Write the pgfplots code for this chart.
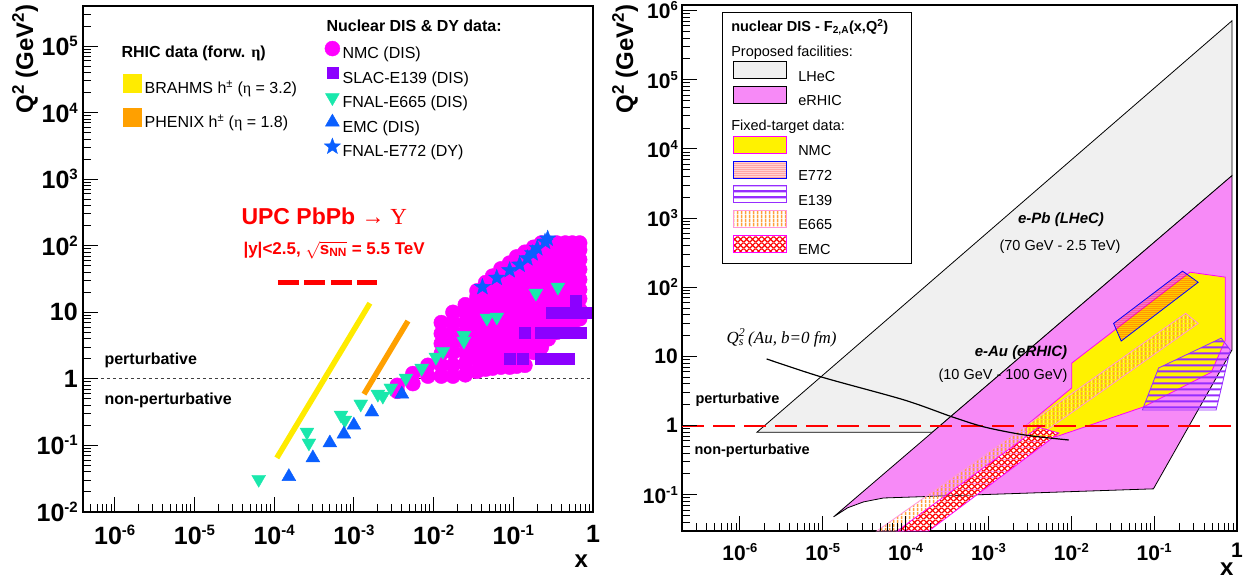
\documentclass[border=0pt]{standalone}
\usepackage{fontspec}
\setmainfont{Liberation Sans}
\newfontfamily\serif{Liberation Serif}
\usepackage{pgfplots}
\pgfplotsset{compat=1.18}
\usetikzlibrary{patterns.meta}

\newcommand{\fs}[1]{\fontsize{#1}{#1}\selectfont}
\newcommand{\tA}[1]{{\fs{25}\bfseries 10\raisebox{9pt}{\fs{15}\bfseries #1}}}
\newcommand{\tB}[1]{{\fs{21}\bfseries 10\raisebox{8pt}{\fs{13}\bfseries #1}}}
\newcommand{\oA}[1]{{\fs{25}\bfseries #1}}
\newcommand{\oB}[1]{{\fs{21}\bfseries #1}}

\definecolor{nmc}{RGB}{255,0,255}
\definecolor{e139}{RGB}{140,0,255}
\definecolor{e665}{RGB}{25,232,172}
\definecolor{emc}{RGB}{10,95,255}
\definecolor{brahms}{RGB}{255,235,0}
\definecolor{phenix}{RGB}{255,160,0}
\definecolor{lhec}{RGB}{240,240,240}
\definecolor{erhic}{RGB}{247,138,247}
\definecolor{hatchpurple}{RGB}{150,45,255}
\definecolor{hatchorange}{RGB}{255,160,60}
\definecolor{e665line}{RGB}{255,150,220}

% colored fill patterns
\tikzdeclarepattern{name=pEonethreenine, type=colored,
  bottom left={(0pt,0pt)}, top right={(6pt,6pt)}, tile size={(6pt,6pt)},
  code={\draw[hatchpurple, line width=2.4pt] (0pt,3pt) -- (6pt,3pt);}}
\tikzdeclarepattern{name=pEsixsixfive, type=colored,
  bottom left={(0pt,0pt)}, top right={(4pt,4pt)}, tile size={(4pt,4pt)},
  code={\draw[hatchorange, line width=2pt] (2pt,0pt) -- (2pt,4pt);}}
\tikzdeclarepattern{name=pEsevenseventwo, type=colored,
  bottom left={(0pt,0pt)}, top right={(2.2pt,2.2pt)}, tile size={(2.2pt,2.2pt)},
  code={\fill[red] (1.1pt,1.1pt) circle (0.75pt);}}
\tikzdeclarepattern{name=pEMC, type=colored,
  bottom left={(0pt,0pt)}, top right={(6pt,6pt)}, tile size={(6pt,6pt)},
  code={\fill[white] (0pt,0pt) rectangle (6pt,6pt);
        \draw[red, line width=1.3pt] (0pt,0pt) -- (6pt,6pt) (0pt,6pt) -- (6pt,0pt);}}

\pgfdeclareplotmark{fstar}{%
  \pgfpathmoveto{\pgfpointpolar{90}{\pgfplotmarksize}}%
  \pgfpathlineto{\pgfpointpolar{126}{0.42\pgfplotmarksize}}%
  \pgfpathlineto{\pgfpointpolar{162}{\pgfplotmarksize}}%
  \pgfpathlineto{\pgfpointpolar{198}{0.42\pgfplotmarksize}}%
  \pgfpathlineto{\pgfpointpolar{234}{\pgfplotmarksize}}%
  \pgfpathlineto{\pgfpointpolar{270}{0.42\pgfplotmarksize}}%
  \pgfpathlineto{\pgfpointpolar{306}{\pgfplotmarksize}}%
  \pgfpathlineto{\pgfpointpolar{342}{0.42\pgfplotmarksize}}%
  \pgfpathlineto{\pgfpointpolar{18}{\pgfplotmarksize}}%
  \pgfpathlineto{\pgfpointpolar{54}{0.42\pgfplotmarksize}}%
  \pgfpathclose\pgfusepathqfillstroke}

\pgfplotsset{every axis/.append style={
    scale only axis, xmode=log, ymode=log, log basis x=10, log basis y=10,
    axis line style={line width=1.3pt},
    xtick pos=bottom, ytick pos=left, xtick align=inside, ytick align=inside,
    every tick/.style={draw=none},
    xticklabel style={anchor=north, inner sep=0pt},
    yticklabel style={anchor=east, inner sep=0pt},
    legend cell align=left}}

\tikzset{tk/.style={draw=black, line width=1pt}}

\begin{document}
\begin{tikzpicture}
\path[use as bounding box] (0pt,0pt) rectangle (1257pt,578pt);

% ---------------- left panel ----------------
\begin{axis}[at={(83pt,66pt)}, anchor=south west, width=510pt, height=506pt,
  xmin=4e-7, xmax=1, ymin=1e-2, ymax=4e5,
  xtick={1e-6,1e-5,1e-4,1e-3,1e-2,1e-1,1},
  xticklabels={\tA{-6},\tA{-5},\tA{-4},\tA{-3},\tA{-2},\tA{-1},\oA{1}},
  ytick={1e-2,1e-1,1,10,1e2,1e3,1e4,1e5},
  yticklabels={\tA{-2},\tA{-1},\oA{1},\oA{10},\tA{2},\tA{3},\tA{4},\tA{5}},
  xticklabel style={yshift=-13pt}, yticklabel style={xshift=-5pt},
  legend image code/.code={\begin{pgfinterruptboundingbox}\fill[#1] (0pt,-0.5pt) rectangle (13pt,12.5pt);\end{pgfinterruptboundingbox}\path (0pt,5pt) (16pt,5pt);},
  legend style={draw=none, fill=none, at={(0.0784,0.8515)}, anchor=north west,
    inner sep=0pt, row sep=17.5pt,
    nodes={inner sep=0pt, text height=12.5pt, text depth=4pt}, font=\fs{16}}]
\addplot[forget plot, black!75, line width=1pt, dash pattern=on 3pt off 3pt] coordinates {(4e-7,1) (1,1)};
\addplot[brahms, line width=5.5pt] coordinates {(1.08e-4,0.065) (1.59e-3,13.7)};
\addlegendentry{BRAHMS h\textsuperscript{±} ({\serif η} = 3.2)}
\addplot[phenix, line width=5.5pt] coordinates {(1.34e-3,0.59) (4.77e-3,7.4)};
\addlegendentry{PHENIX h\textsuperscript{±} ({\serif η} = 1.8)}
\addplot[forget plot, red, line width=5pt, dash pattern=on 21pt off 5.5pt] coordinates {(1.11e-4,28.4) (1.95e-3,28.4)};
\end{axis}

\begin{axis}[hide axis, at={(83pt,66pt)}, anchor=south west, width=510pt, height=506pt,
  xmin=4e-7, xmax=1, ymin=1e-2, ymax=4e5,
  legend image code/.code={\begin{pgfinterruptboundingbox}\draw[#1] plot coordinates {(7pt,5.7pt)};\end{pgfinterruptboundingbox}\path (0pt,5pt) (17pt,5pt);},
  legend style={draw=none, fill=none, at={(0.4745,0.922)}, anchor=north west,
    inner sep=0pt, row sep=7.3pt,
    nodes={inner sep=0pt, text height=13.2pt, text depth=4pt}, font=\fs{16}}]
\addplot[only marks, mark=*, mark size=7.5pt, color=nmc] coordinates {
 (0.0035,0.65) (0.0035,0.8)
 (0.0055,0.85) (0.0055,1.2)
 (0.0085,1.1) (0.0085,1.6)
 (0.0125,1.1) (0.0125,1.6) (0.0125,2.4) (0.0125,3.4) (0.0125,4.8) (0.0125,7)
 (0.0175,1.1) (0.0175,1.6) (0.0175,2.5) (0.0175,3.5) (0.0175,5) (0.0175,7) (0.0175,10)
 (0.025,1.15) (0.025,1.7) (0.025,2.5) (0.025,3.5) (0.025,5) (0.025,7) (0.025,10) (0.025,13)
 (0.035,1.3) (0.035,2) (0.035,3) (0.035,4.2) (0.035,6) (0.035,8.5) (0.035,12) (0.035,17) (0.035,21)
 (0.045,1.4) (0.045,2.1) (0.045,3.1) (0.045,4.4) (0.045,6.2) (0.045,8.7) (0.045,12) (0.045,17) (0.045,24) (0.045,28)
 (0.055,1.45) (0.055,2.2) (0.055,3.4) (0.055,4.8) (0.055,6.7) (0.055,9.4) (0.055,13) (0.055,18) (0.055,26) (0.055,35)
 (0.07,1.5) (0.07,2.3) (0.07,3.4) (0.07,4.8) (0.07,6.7) (0.07,9.4) (0.07,13) (0.07,18) (0.07,26) (0.07,36) (0.07,45)
 (0.09,1.5) (0.09,2.3) (0.09,3.5) (0.09,5) (0.09,7) (0.09,10) (0.09,14) (0.09,20) (0.09,28) (0.09,40) (0.09,55)
 (0.11,1.55) (0.11,2.4) (0.11,3.5) (0.11,5) (0.11,7) (0.11,10) (0.11,14) (0.11,20) (0.11,28) (0.11,40) (0.11,56) (0.11,68)
 (0.14,1.6) (0.14,2.5) (0.14,4) (0.14,5.6) (0.14,8) (0.14,11) (0.14,16) (0.14,22) (0.14,31) (0.14,44) (0.14,62) (0.14,80)
 (0.18,2.5) (0.18,3.5) (0.18,5) (0.18,7) (0.18,10) (0.18,14) (0.18,20) (0.18,28) (0.18,40) (0.18,56) (0.18,78) (0.18,95)
 (0.225,3) (0.225,4.2) (0.225,6) (0.225,8.4) (0.225,12) (0.225,17) (0.225,24) (0.225,33) (0.225,47) (0.225,66) (0.225,92) (0.225,110)
 (0.275,4) (0.275,5.6) (0.275,8) (0.275,11) (0.275,16) (0.275,22) (0.275,31) (0.275,44) (0.275,62) (0.275,87) (0.275,110)
 (0.35,5) (0.35,7) (0.35,10) (0.35,14) (0.35,20) (0.35,28) (0.35,39) (0.35,55) (0.35,77) (0.35,110)
 (0.45,5.5) (0.45,7.7) (0.45,11) (0.45,15) (0.45,21) (0.45,30) (0.45,42) (0.45,59) (0.45,83) (0.45,110)
 (0.55,6.5) (0.55,9) (0.55,13) (0.55,18) (0.55,25) (0.55,35) (0.55,49) (0.55,69) (0.55,97) (0.55,110)
 (0.68,8) (0.68,11) (0.68,16) (0.68,22) (0.68,31) (0.68,44) (0.68,62) (0.68,87) (0.68,110)
};
\addlegendentry{NMC (DIS)}
\addplot[only marks, mark=square*, mark size=5.5pt, color=e139] coordinates {
 (0.089,2) (0.13,2) (0.22,2) (0.25,2) (0.3,2) (0.35,2) (0.4,2) (0.45,2) (0.5,2)
 (0.14,5) (0.22,5) (0.25,5) (0.3,5) (0.35,5) (0.4,5) (0.45,5) (0.5,5) (0.55,5) (0.6,5) (0.7,5)
 (0.3,10) (0.35,10) (0.4,10) (0.45,10) (0.5,10) (0.55,10) (0.6,10) (0.7,10) (0.8,10)
 (0.61,15)
};
\addlegendentry{SLAC-E139 (DIS)}
\addplot[only marks, mark=triangle*, mark size=8pt, mark options={rotate=180}, color=e665] coordinates {
 (6.4e-5,0.031) (2.58e-4,0.159) (2.73e-4,0.109) (6.9e-4,0.286) (7.7e-4,0.24)
 (1.22e-3,0.42) (2.0e-3,0.59) (2.31e-3,0.55) (2.91e-3,0.73) (4.5e-3,1.03)
 (7.1e-3,1.45) (0.0107,2.12) (0.0131,2.6) (0.024,4.5) (0.024,3.7)
 (0.0467,8.2) (0.0622,8.5) (0.192,19.4) (0.363,23.9)
};
\addlegendentry{FNAL-E665 (DIS)}
\addplot[only marks, mark=triangle*, mark size=8pt, color=emc] coordinates {
 (1.53e-4,0.034) (3.06e-4,0.065) (5.0e-4,0.109) (7.5e-4,0.148)
 (1.0e-3,0.202) (1.68e-3,0.318) (4.0e-3,0.59)
};
\addlegendentry{EMC (DIS)}
\addplot[only marks, mark=fstar, mark size=8.5pt, color=emc] coordinates {
 (0.041,24) (0.062,33) (0.09,43) (0.12,52) (0.15,65) (0.175,77) (0.2,92) (0.25,115) (0.27,128)
};
\addlegendentry{FNAL-E772 (DY)}
\end{axis}

\node[anchor=west, font=\fs{16}\bfseries] at (118pt,525pt) {RHIC data (forw. {\serif η})};
\node[anchor=west, font=\fs{16}\bfseries] at (323pt,552pt) {Nuclear DIS \& DY data:};
\node[anchor=west, text=red, font=\fs{23}\bfseries] at (238pt,362pt) {UPC PbPb {\serif\mdseries → Υ}};
\node[anchor=west, text=red, font=\fs{17}\bfseries] at (240pt,328pt) {|y|<2.5, $\sqrt{\mbox{\fs{17}\bfseries s\textsubscript{NN}}}$ = 5.5 TeV};
\node[anchor=west, font=\fs{16}\bfseries] at (101pt,218pt) {perturbative};
\node[anchor=west, font=\fs{16}\bfseries] at (101pt,178pt) {non-perturbative};
\node[rotate=90, anchor=base east, font=\fs{24}\bfseries] at (33pt,577pt) {Q\textsuperscript{2} (GeV\textsuperscript{2})};
\node[anchor=base west, font=\fs{24}\bfseries] at (571pt,11pt) {x};

% ---------------- right panel ----------------
\begin{axis}[at={(682pt,47pt)}, anchor=south west, width=555pt, height=526pt,
  xmin=2e-7, xmax=1, ymin=0.03, ymax=1.2e6,
  xtick={1e-6,1e-5,1e-4,1e-3,1e-2,1e-1,1},
  xticklabels={\tB{-6},\tB{-5},\tB{-4},\tB{-3},\tB{-2},\tB{-1},\oB{1}},
  ytick={1e-1,1,10,1e2,1e3,1e4,1e5,1e6},
  yticklabels={\tB{-1},\oB{1},\oB{10},\tB{2},\tB{3},\tB{4},\tB{5},\tB{6}},
  xticklabel style={yshift=-12pt}, yticklabel style={xshift=-4pt},
  legend image code/.code={\begin{pgfinterruptboundingbox}\draw[#1] (0pt,-3pt) rectangle (53pt,14pt);\end{pgfinterruptboundingbox}\path (0pt,5pt) (64pt,5pt);},
  legend style={draw=black, line width=1pt, fill=white, inner xsep=11pt, inner ysep=5pt,
    at={(0.072,0.9867)}, anchor=north west, row sep=7.3pt,
    nodes={inner sep=0pt, text height=14pt, text depth=3.5pt}, font=\fs{14.5}}]
\addlegendimage{legend image code/.code={}}
\addlegendentry{\hspace*{-67pt}\bfseries nuclear DIS - F\textsubscript{2,A}(x,Q\textsuperscript{2})\hspace*{12pt}}
\addlegendimage{legend image code/.code={}}
\addlegendentry{\hspace*{-67pt}Proposed facilities:}
\addplot[fill=lhec, draw=black, line width=0.8pt] coordinates {
 (1.6e-6,0.8) (0.87,7.1e5) (0.87,4100) (2.1e-4,0.8)} --cycle;
\addlegendentry{LHeC}
\addplot[fill=erhic, draw=black, line width=0.8pt] coordinates {
 (1.35e-5,0.048) (0.87,4100) (0.87,12.4) (0.098,0.122) (5.4e-5,0.090) (3.1e-5,0.079) (2e-5,0.065)} --cycle;
\addlegendentry{eRHIC}
\addlegendimage{legend image code/.code={}}
\addlegendentry{\hspace*{-67pt}Fixed-target data:}
\addplot[fill=yellow, draw=nmc, line width=0.8pt] coordinates {
 (0.72,140) (0.27,165) (0.0101,8.0) (0.0101,3.5) (2.9e-3,1.02) (2.9e-3,0.58)
 (6.5e-3,0.69) (0.074,1.86) (0.49,5.9) (0.72,17)} --cycle;
\addlegendentry{NMC}
\addplot[draw=blue, line width=0.8pt, pattern=pEsevenseventwo] coordinates {
 (0.0324,30) (0.22,171) (0.34,118) (0.040,16.7)} --cycle;
\addlegendentry{E772}
\addplot[draw=hatchpurple, line width=0.8pt, pattern=pEonethreenine] coordinates {
 (0.072,1.68) (0.113,6.8) (0.645,18.4) (0.83,12.4) (0.56,1.68)} --cycle;
\addlegendentry{E139}
\addplot[draw=e665line, line width=0.8pt, pattern=pEsixsixfive] coordinates {
 (4.5e-5,0.03) (0.24,42) (0.34,30) (9.5e-5,0.03)} --cycle;
\addlegendentry{E665}
\addplot[draw=nmc, line width=0.8pt, pattern=pEMC] coordinates {
 (7.9e-5,0.03) (2.7e-3,0.66) (4.0e-3,0.95) (7.1e-3,0.78) (1.9e-4,0.03)} --cycle;
\addlegendentry{EMC}
% Q2 = 1 boundary and saturation scale
\addplot[forget plot, red, line width=1.8pt, dash pattern=on 22pt off 9pt] coordinates {(2e-7,1) (1,1)};
\addplot[forget plot, black, line width=1.2pt, smooth] coordinates {
 (2.1e-6,9.2) (9.9e-6,5.0) (9.6e-5,2.35) (3.7e-4,1.33) (9.1e-4,0.95) (2.8e-3,0.73) (9.3e-3,0.62)};
\end{axis}

\node[font=\fs{15}\bfseries\itshape] at (1061pt,358pt) {e-Pb (LHeC)};
\node[font=\fs{14.5}] at (1060pt,331pt) {(70 GeV - 2.5 TeV)};
\node[font=\fs{15}\bfseries\itshape] at (1021pt,225pt) {e-Au (eRHIC)};
\node[font=\fs{14.5}] at (1003pt,202pt) {(10 GeV - 100 GeV)};
\node[anchor=west, font=\fs{17}\serif\itshape] at (723pt,240pt) {Q\rlap{\textsuperscript{2}}\textsubscript{s} (Au, b=0 fm)};
\node[anchor=west, font=\fs{14.5}\bfseries] at (692pt,178pt) {perturbative};
\node[anchor=west, font=\fs{14.5}\bfseries] at (691pt,127pt) {non-perturbative};
\node[rotate=90, anchor=base east, font=\fs{24}\bfseries] at (633pt,577pt) {Q\textsuperscript{2} (GeV\textsuperscript{2})};
\node[anchor=base east, font=\fs{24}\bfseries] at (1237pt,3pt) {x};

% ---------------- tick marks (ROOT style, inside the frames) ----------------
% left panel: 79.714pt per decade in x from 4e-7, 66.561pt per decade in y from 1e-2
\foreach \e in {-6,...,-1}{\pgfmathsetmacro\xx{83+(\e+6.39794)*79.714}\draw[tk] (\xx pt,66pt) -- ++(0pt,15pt);}
\foreach \e in {-6,...,-1}{\foreach \m in {2,...,9}{\pgfmathsetmacro\xx{83+(\e+log10(\m)+6.39794)*79.714}\draw[tk] (\xx pt,66pt) -- ++(0pt,8pt);}}
\foreach \m in {5,...,9}{\pgfmathsetmacro\xx{83+(-7+log10(\m)+6.39794)*79.714}\draw[tk] (\xx pt,66pt) -- ++(0pt,8pt);}
\foreach \e in {-1,...,5}{\pgfmathsetmacro\yy{66+(\e+2)*66.561}\draw[tk] (83pt,\yy pt) -- ++(15pt,0pt);}
\foreach \e in {-2,...,4}{\foreach \m in {2,...,9}{\pgfmathsetmacro\yy{66+(\e+log10(\m)+2)*66.561}\draw[tk] (83pt,\yy pt) -- ++(8pt,0pt);}}
\foreach \m in {2,3}{\pgfmathsetmacro\yy{66+(5+log10(\m)+2)*66.561}\draw[tk] (83pt,\yy pt) -- ++(8pt,0pt);}
% right panel: 82.849pt per decade in x from 2e-7, 69.191pt per decade in y from 0.03
\foreach \e in {-6,...,-1}{\pgfmathsetmacro\xx{682+(\e+6.69897)*82.849}\draw[tk] (\xx pt,47pt) -- ++(0pt,15pt);}
\foreach \e in {-6,...,-1}{\foreach \m in {2,...,9}{\pgfmathsetmacro\xx{682+(\e+log10(\m)+6.69897)*82.849}\draw[tk] (\xx pt,47pt) -- ++(0pt,8pt);}}
\foreach \m in {3,...,9}{\pgfmathsetmacro\xx{682+(-7+log10(\m)+6.69897)*82.849}\draw[tk] (\xx pt,47pt) -- ++(0pt,8pt);}
\foreach \e in {-1,...,6}{\pgfmathsetmacro\yy{47+(\e+1.52288)*69.191}\draw[tk] (682pt,\yy pt) -- ++(15pt,0pt);}
\foreach \e in {-1,...,5}{\foreach \m in {2,...,9}{\pgfmathsetmacro\yy{47+(\e+log10(\m)+1.52288)*69.191}\draw[tk] (682pt,\yy pt) -- ++(8pt,0pt);}}
\foreach \m in {4,...,9}{\pgfmathsetmacro\yy{47+(-2+log10(\m)+1.52288)*69.191}\draw[tk] (682pt,\yy pt) -- ++(8pt,0pt);}
\end{tikzpicture}
\end{document}
